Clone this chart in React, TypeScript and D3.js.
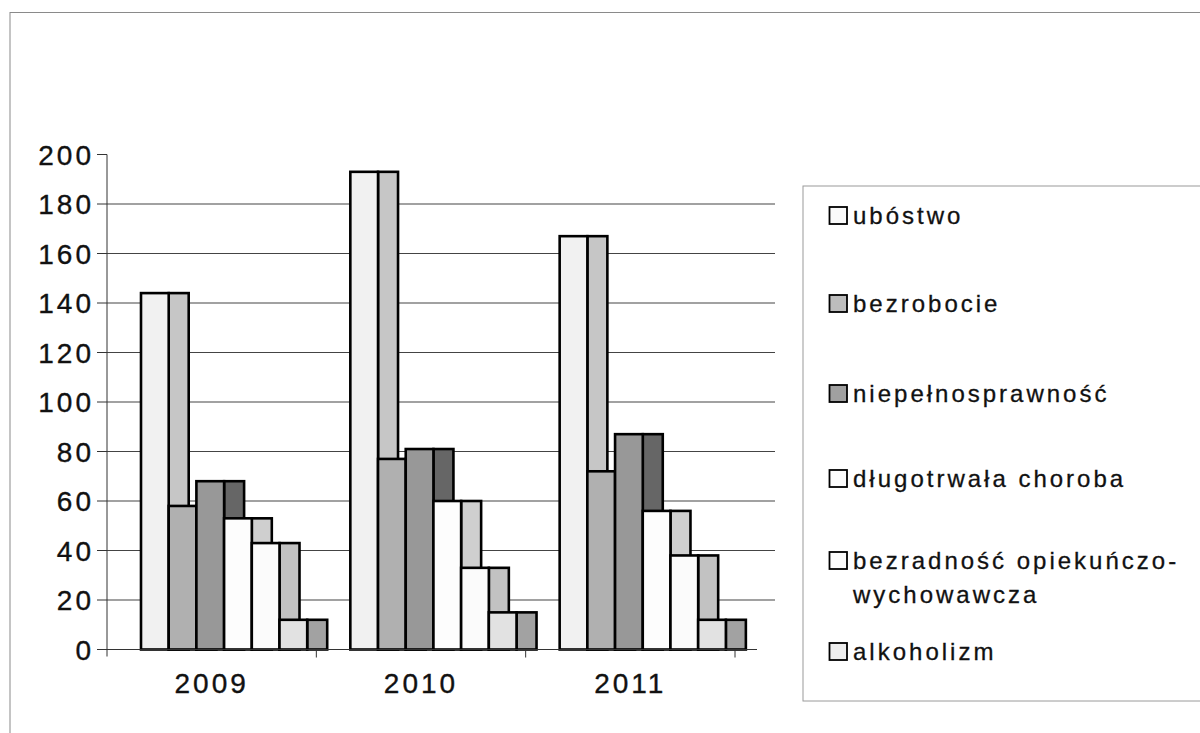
import React from "react";
import * as d3 from "d3";

const years = ["2009", "2010", "2011"];
const seriesNames = [
  "ubóstwo",
  "bezrobocie",
  "niepełnosprawność",
  "długotrwała choroba",
  "bezradność opiekuńczo-wychowawcza",
  "alkoholizm",
];
const ubostwo = [144, 193, 167];
const bezrobocie = [58, 77, 72];
const niepelnosprawnosc = [68, 81, 87];
const dlugotrwala = [53, 60, 56];
const bezradnosc = [43, 33, 38];
const alkoholizm = [12, 15, 12];
const seriesValues = [ubostwo, bezrobocie, niepelnosprawnosc, dlugotrwala, bezradnosc, alkoholizm];
const yTicks = [0, 20, 40, 60, 80, 100, 120, 140, 160, 180, 200];

const frontFill = ["#f1f1f1", "#b0b0b0", "#989898", "#fdfdfd", "#fbfbfb", "#e2e2e2"];
const sideFill = ["#c6c6c6", "#8a8a8a", "#666666", "#cfcfcf", "#c2c2c2", "#a2a2a2"];
const legendFill = ["#fafafa", "#bdbdbd", "#a0a0a0", "#fcfcfc", "#fcfcfc", "#eeeeee"];
const legendLines: string[][] = [
  ["ubóstwo"],
  ["bezrobocie"],
  ["niepełnosprawność"],
  ["długotrwała choroba"],
  ["bezradność opiekuńczo-", "wychowawcza"],
  ["alkoholizm"],
];
const legendBaselines = [224, 312, 402, 487, 569, 660];

export default function App() {
  const y = d3.scaleLinear().domain([0, 200]).range([649.5, 154.5]);
  const x = d3.scaleBand<string>().domain(years).range([107, 735]).paddingInner(0).paddingOuter(0);
  const frontW = 27.7;
  const sideW = 20;
  const inner = d3
    .scaleBand<string>()
    .domain(seriesNames)
    .range([0, frontW * seriesNames.length]);
  const groupOffset = 34;
  const font = "'Liberation Sans', Arial, sans-serif";

  return (
    <svg
      width={1200}
      height={733}
      style={{ position: "absolute", left: 0, top: 0, display: "block", background: "#fff" }}
      fontFamily={font}
    >
      {/* outer frame */}
      <rect x={10} y={12.5} width={1220} height={760} fill="none" stroke="#8a8a8a" strokeWidth={1} />

      {/* gridlines */}
      {yTicks
        .filter((t) => t > 0 && t < 200)
        .map((t) => (
          <line key={"g" + t} x1={107} x2={775} y1={y(t)} y2={y(t)} stroke="#444" strokeWidth={1.2} />
        ))}

      {/* y axis */}
      <line x1={107} x2={107} y1={y(200)} y2={y(0) + 7} stroke="#333" strokeWidth={1} />
      {yTicks.map((t) => (
        <g key={"t" + t}>
          <line x1={97} x2={107} y1={y(t)} y2={y(t)} stroke="#333" strokeWidth={1} />
          <text
            x={94}
            y={y(t)}
            dy="0.36em"
            textAnchor="end"
            fontSize={28}
            letterSpacing={3}
            fill="#111"
            stroke="#111"
            strokeWidth={0.35}
          >
            {t}
          </text>
        </g>
      ))}

      {/* bars */}
      {years.map((yr, gi) => {
        const gx = (x(yr) as number) + groupOffset;
        return (
          <g key={yr}>
            {seriesNames.map((s, si) => {
              const v = seriesValues[si][gi];
              const bx = gx + (inner(s) as number);
              const top = y(v);
              const h = y(0) - top;
              return (
                <g key={s}>
                  <rect
                    x={bx + frontW}
                    y={top}
                    width={sideW}
                    height={h}
                    fill={sideFill[si]}
                    stroke="#000"
                    strokeWidth={2.6}
                  />
                  <rect
                    x={bx}
                    y={top}
                    width={frontW}
                    height={h}
                    fill={frontFill[si]}
                    stroke="#000"
                    strokeWidth={2.6}
                  />
                </g>
              );
            })}
          </g>
        );
      })}

      {/* baseline / x axis */}
      <line x1={97} x2={757} y1={y(0)} y2={y(0)} stroke="#333" strokeWidth={1} />
      {years.map((yr) => (
        <line
          key={"xt" + yr}
          x1={(x(yr) as number) + x.bandwidth()}
          x2={(x(yr) as number) + x.bandwidth()}
          y1={y(0)}
          y2={y(0) + 8}
          stroke="#333"
          strokeWidth={1}
        />
      ))}
      {years.map((yr) => (
        <text
          key={"xl" + yr}
          x={(x(yr) as number) + x.bandwidth() / 2}
          y={693}
          textAnchor="middle"
          fontSize={28}
          letterSpacing={3}
          fill="#111"
          stroke="#111"
          strokeWidth={0.35}
        >
          {yr}
        </text>
      ))}

      {/* legend */}
      <rect x={803} y={186} width={420} height={515} fill="none" stroke="#9a9a9a" strokeWidth={1} />
      {legendLines.map((lines, i) => {
        const b = legendBaselines[i];
        return (
          <g key={"lg" + i}>
            <rect
              x={829.5}
              y={b - 17}
              width={17.5}
              height={17}
              fill={legendFill[i]}
              stroke="#000"
              strokeWidth={1.8}
            />
            {lines.map((ln, li) => (
              <text
                key={li}
                x={853}
                y={b + li * 34}
                fontSize={24}
                letterSpacing={3}
                fill="#111"
                stroke="#111"
                strokeWidth={0.3}
              >
                {ln}
              </text>
            ))}
          </g>
        );
      })}
    </svg>
  );
}
